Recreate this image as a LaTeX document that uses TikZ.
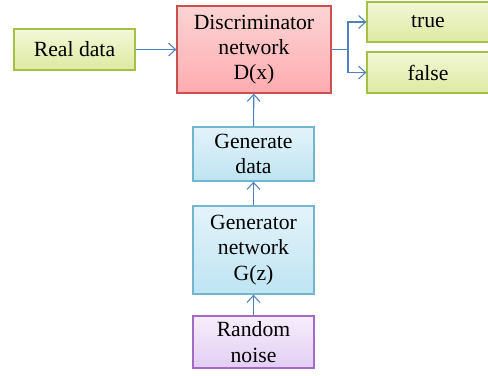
\documentclass[tikz,border=0pt]{standalone}
\usepackage{amsmath}
\usepackage{fontspec}
\setmainfont{Liberation Serif}
\usepackage{tikz}
\usetikzlibrary{arrows,arrows.meta,shapes}

\definecolor{greenline}{RGB}{165,192,70}
\definecolor{greentop}{RGB}{242,247,214}
\definecolor{greenbot}{RGB}{222,234,162}
\definecolor{redline}{RGB}{205,80,80}
\definecolor{redtop}{RGB}{251,212,212}
\definecolor{redbot}{RGB}{255,172,176}
\definecolor{blueline}{RGB}{112,182,208}
\definecolor{bluetop}{RGB}{228,243,250}
\definecolor{bluebot}{RGB}{190,228,242}
\definecolor{purpleline}{RGB}{165,105,200}
\definecolor{purpletop}{RGB}{247,238,252}
\definecolor{purplebot}{RGB}{226,206,242}
\definecolor{arrowblue}{RGB}{79,129,189}

\tikzset{
  box/.style={draw, line width=1.1pt, align=center, inner sep=0pt,
    font=\fontsize{18.5}{21.5}\selectfont},
  inbox/.style={box, draw=greenline, top color=greentop, bottom color=greenbot,
    minimum width=3.63cm},
  discbox/.style={box, draw=redline, top color=redtop, bottom color=redbot,
    minimum width=4.62cm, minimum height=2.61cm},
  genbox/.style={box, draw=blueline, top color=bluetop, bottom color=bluebot,
    minimum width=3.63cm},
  noisebox/.style={box, draw=purpleline, top color=purpletop, bottom color=purplebot,
    minimum width=3.63cm, minimum height=1.56cm},
  flow/.style={draw=arrowblue, line width=0.9pt,
    -{Straight Barb[length=6pt,width=11pt,line width=0.9pt]}}
}

\begin{document}
\begin{tikzpicture}
  \useasboundingbox (0,0) rectangle (14.64,-11.25);
  \node[inbox, minimum height=1.23cm] (real) at (2.235,-1.485) {Real data};
  \node[discbox] (disc) at (7.62,-1.485) {Discriminator\\network\\D(x)};
  \node[inbox, minimum width=3.66cm, minimum height=1.2cm] (true) at (12.84,-0.66) {true};
  \node[inbox, minimum width=3.66cm, minimum height=1.23cm] (false) at (12.84,-2.175) {false};
  \node[genbox, minimum height=1.62cm] (gdata) at (7.605,-4.62) {Generate\\data};
  \node[genbox, minimum height=2.64cm] (gnet) at (7.605,-7.5) {Generator\\network\\G(z)};
  \node[noisebox] (noise) at (7.605,-10.26) {Random\\noise};
  \coordinate (split) at (10.44,-1.485);
  \draw[flow] (real)--(disc);
  \draw[flow] (disc.east)--(split)|-(true);
  \draw[flow] (split)|-(false);
  \draw[flow] (gdata)--(disc);
  \draw[flow] (gnet)--(gdata);
  \draw[flow] (noise)--(gnet);
\end{tikzpicture}
\end{document}
